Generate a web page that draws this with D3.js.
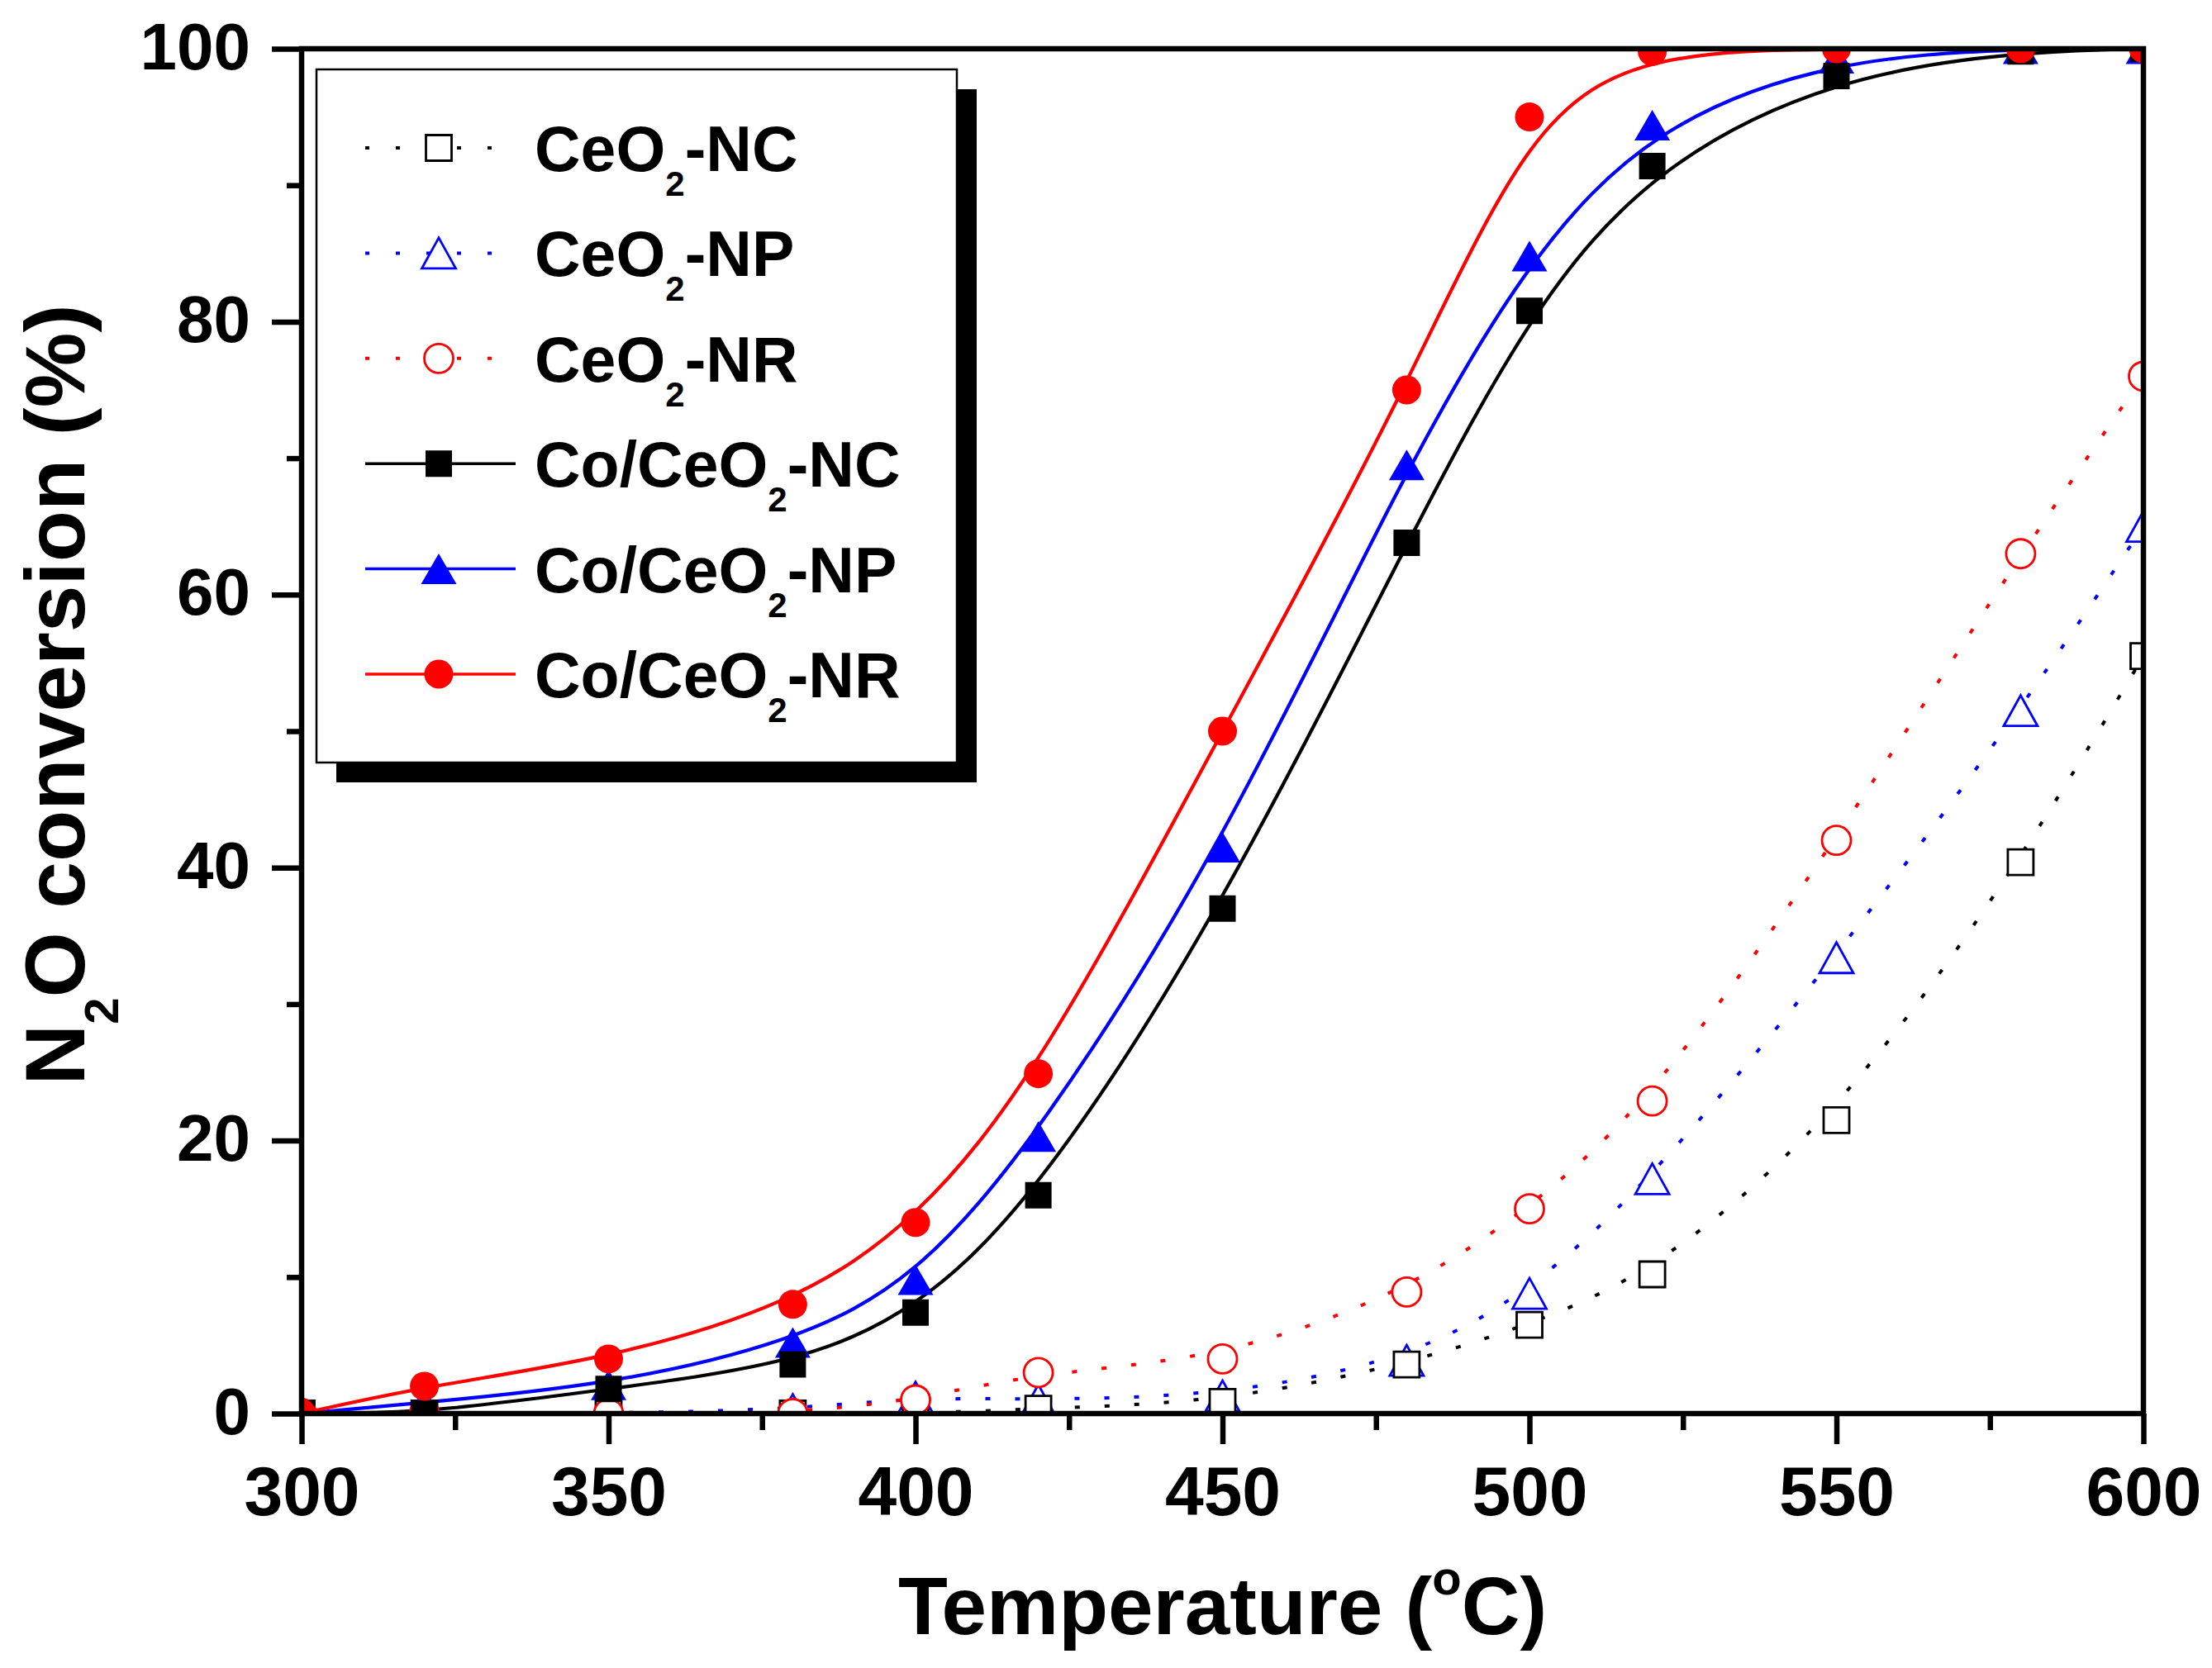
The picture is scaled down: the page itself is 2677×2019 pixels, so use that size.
<!DOCTYPE html>
<html>
<head>
<meta charset="utf-8">
<script src="https://cdn.jsdelivr.net/npm/d3@7"></script>
<style>
  html, body { margin: 0; padding: 0; background: #fff; }
  svg text { font-family: "Liberation Sans", Arial, sans-serif; font-weight: bold; fill: #000; }
</style>
</head>
<body>
<svg id="chart"></svg>
<script>
// 1. DATOS
// ============================
const temperatures = [300, 320, 350, 380, 400, 420, 450, 480, 500, 520, 550, 580, 600];

// soportes sin Co (símbolos abiertos, línea punteada)
const ceo2NC = [0, 0, 0, 0, 0, 0.35, 0.85, 3.6, 6.5, 10.2, 21.5, 40.4, 55.5];
const ceo2NP = [0, 0, 0, 0.3, 1.2, 1.0, 1.3, 3.9, 8.8, 17.2, 33.4, 51.5, 65];
const ceo2NR = [0, 0, 0, 0, 1.0, 3.0, 4.0, 8.9, 15.0, 22.9, 42, 63, 76];

// catalizadores Co/CeO2 (símbolos llenos, línea continua)
const coNC = [0, 0, 1.8, 3.6, 7.4, 16, 37, 63.8, 80.8, 91.4, 98, 99.8, 100];
const coNP = [0, 0.8, 2.1, 5.2, 9.8, 20.3, 41.5, 69.5, 84.8, 94.4, 99.3, 100, 100];
const coNR = [0, 2, 4, 8, 14, 24.9, 50, 75, 95, 99.8, 100, 100, 100];

const seriesNames = ["CeO2-NC", "CeO2-NP", "CeO2-NR", "Co/CeO2-NC", "Co/CeO2-NP", "Co/CeO2-NR"];
const xTicks = [300, 350, 400, 450, 500, 550, 600];
const yTicks = [0, 20, 40, 60, 80, 100];

// 2. CONFIGURACIÓN
// ============================
const width = 2677;
const height = 2019;
const plot = { left: 365, right: 2594, top: 59, bottom: 1711 };

const series = [
    { name: seriesNames[0], values: ceo2NC, color: "#000000", shape: "square", open: true },
    { name: seriesNames[1], values: ceo2NP, color: "#0000ff", shape: "triangle", open: true },
    { name: seriesNames[2], values: ceo2NR, color: "#ff0000", shape: "circle", open: true },
    { name: seriesNames[3], values: coNC, color: "#000000", shape: "square", open: false },
    { name: seriesNames[4], values: coNP, color: "#0000ff", shape: "triangle", open: false },
    { name: seriesNames[5], values: coNR, color: "#ff0000", shape: "circle", open: false }
];
// orden de dibujo: azul, negro, rojo
const drawOrder = [1, 0, 2, 4, 3, 5];

const x = d3.scaleLinear().domain([300, 600]).range([plot.left, plot.right]);
const y = d3.scaleLinear().domain([0, 100]).range([plot.bottom, plot.top]);

const svg = d3.select("#chart").attr("width", width).attr("height", height);
svg.append("rect").attr("width", width).attr("height", height).attr("fill", "#fff");

svg.append("defs").append("clipPath").attr("id", "clip")
    .append("rect")
    .attr("x", plot.left).attr("y", plot.top)
    .attr("width", plot.right - plot.left).attr("height", plot.bottom - plot.top);

// símbolos
function shapePath(shape, open) {
    if (shape === "square") {
        const s = open ? 31 : 32;
        return `M${-s / 2},${-s / 2}h${s}v${s}h${-s}Z`;
    }
    if (shape === "triangle") {
        const w = open ? 41 : 43, h = 37;
        return `M0,${-h / 2}L${w / 2},${h / 2}L${-w / 2},${h / 2}Z`;
    }
    const r = open ? 17.5 : 17.5;
    return `M${r},0A${r},${r} 0 1,1 ${-r},0A${r},${r} 0 1,1 ${r},0Z`;
}

// 3. CURVAS Y PUNTOS
// ============================
const line = d3.line()
    .x((d, i) => x(temperatures[i]))
    .y(d => y(d))
    .curve(d3.curveBasis);

const plotArea = svg.append("g").attr("clip-path", "url(#clip)");

// primero punteadas, luego continuas
drawOrder.forEach(k => {
    const s = series[k];
    plotArea.append("path")
        .datum(s.values)
        .attr("d", line)
        .attr("fill", "none")
        .attr("stroke", s.color)
        .attr("stroke-width", s.open ? 4 : 4.2)
        .attr("stroke-dasharray", s.open ? "6,30" : null);
});

drawOrder.forEach(k => {
    const s = series[k];
    plotArea.append("g")
        .selectAll("path")
        .data(s.values)
        .join("path")
        .attr("transform", (d, i) => `translate(${x(temperatures[i])},${y(d)})`)
        .attr("d", shapePath(s.shape, s.open))
        .attr("fill", s.open ? "#fff" : s.color)
        .attr("stroke", s.open ? s.color : "none")
        .attr("stroke-width", 2.8);
});

// 4. EJES
// ============================
const axisStyle = g => {
    g.select(".domain").remove();
    g.selectAll(".tick line").attr("stroke", "#000").attr("stroke-width", 6.5);
};

svg.append("g")
    .attr("transform", `translate(0,${plot.bottom})`)
    .call(d3.axisBottom(x).tickValues(d3.range(325, 600, 50)).tickSize(20).tickFormat(""))
    .call(axisStyle);

svg.append("g")
    .attr("transform", `translate(0,${plot.bottom})`)
    .call(d3.axisBottom(x).tickValues(xTicks).tickSize(37))
    .call(axisStyle)
    .call(g => g.selectAll(".tick text")
        .attr("y", 123).attr("dy", 0)
        .style("font-size", "84px"));

svg.append("g")
    .attr("transform", `translate(${plot.left},0)`)
    .call(d3.axisLeft(y).tickValues(d3.range(10, 100, 20)).tickSize(18).tickFormat(""))
    .call(axisStyle);

svg.append("g")
    .attr("transform", `translate(${plot.left},0)`)
    .call(d3.axisLeft(y).tickValues(yTicks).tickSize(36))
    .call(axisStyle)
    .call(g => g.selectAll(".tick text")
        .attr("x", -62).attr("dy", 24)
        .style("font-size", "80px"));

// marco
svg.append("rect")
    .attr("x", plot.left).attr("y", plot.top)
    .attr("width", plot.right - plot.left).attr("height", plot.bottom - plot.top)
    .attr("fill", "none").attr("stroke", "#000").attr("stroke-width", 6.5);

// títulos de ejes
const xTitle = svg.append("text")
    .attr("x", (plot.left + plot.right) / 2).attr("y", 1978)
    .attr("text-anchor", "middle")
    .style("font-size", "98px");
xTitle.append("tspan").text("Temperature (");
xTitle.append("tspan").attr("dy", -48).style("font-size", "58px").text("o");
xTitle.append("tspan").attr("dy", 48).text("C)");

const yTitle = svg.append("text")
    .attr("transform", "translate(102,841) rotate(-90)")
    .attr("text-anchor", "middle")
    .style("font-size", "102px");
yTitle.append("tspan").text("N");
yTitle.append("tspan").attr("dy", 41).style("font-size", "58px").text("2");
yTitle.append("tspan").attr("dy", -41).text("O conversion (%)");

// 5. LEYENDA
// ============================
const legend = { x: 383, y: 84, w: 775, h: 839, shadow: 24 };
svg.append("rect")
    .attr("x", legend.x + legend.shadow).attr("y", legend.y + legend.shadow)
    .attr("width", legend.w).attr("height", legend.h)
    .attr("fill", "#000");
svg.append("rect")
    .attr("x", legend.x).attr("y", legend.y)
    .attr("width", legend.w).attr("height", legend.h)
    .attr("fill", "#fff").attr("stroke", "#000").attr("stroke-width", 2.5);

const rowY = d3.scaleLinear().domain([0, 5]).range([179, 816]);

series.forEach((s, i) => {
    const row = svg.append("g").attr("transform", `translate(0,${rowY(i)})`);
    row.append("line")
        .attr("x1", 442).attr("x2", 624)
        .attr("stroke", s.color)
        .attr("stroke-width", s.open ? 4 : 3.5)
        .attr("stroke-dasharray", s.open ? "5,32" : null);
    row.append("path")
        .attr("transform", "translate(531,0)")
        .attr("d", shapePath(s.shape, s.open))
        .attr("fill", s.open ? "#fff" : s.color)
        .attr("stroke", s.open ? s.color : "none")
        .attr("stroke-width", 2.8);

    const cut = s.name.indexOf("2");
    const label = row.append("text")
        .attr("x", 647).attr("y", 28)
        .style("font-size", "77px");
    label.append("tspan").text(s.name.slice(0, cut));
    label.append("tspan").attr("dy", 30).style("font-size", "42px").text("2");
    label.append("tspan").attr("dy", -30).text(s.name.slice(cut + 1));
});
</script>
</body>
</html>
